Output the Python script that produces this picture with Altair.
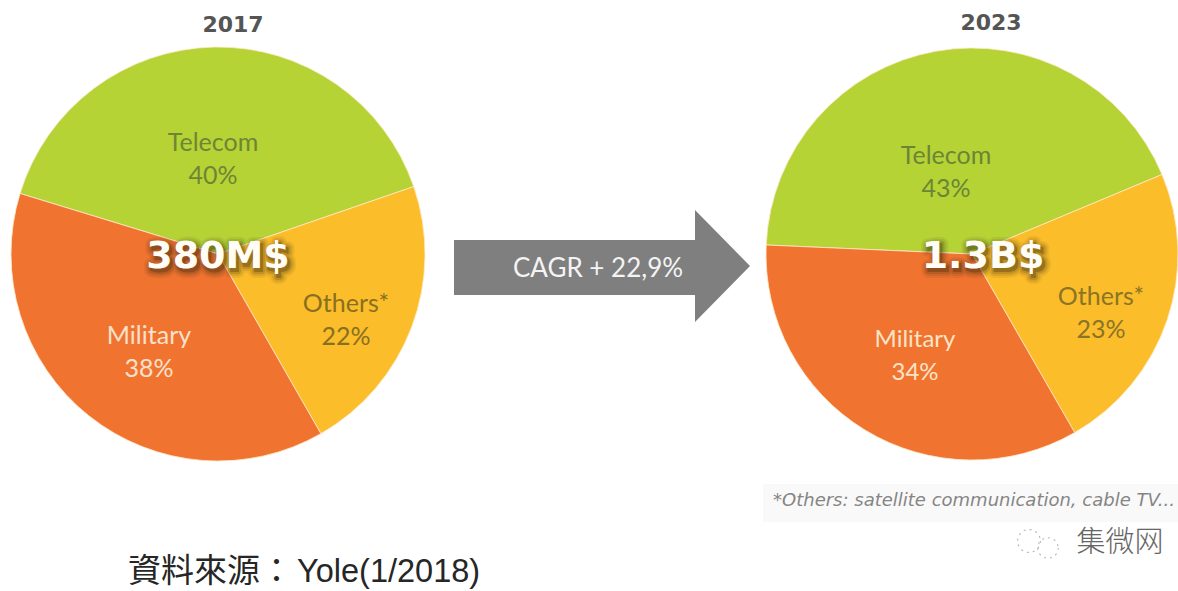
import altair as alt
import pandas as pd

segments = ["Telecom", "Others*", "Military"]
shares_2017 = [40, 22, 38]
shares_2023 = [43, 23, 34]
totals = ["380M$", "1.3B$"]
years = ["2017", "2023"]
cagr_label = "CAGR + 22,9%"
footnote = "*Others: satellite communication, cable TV..."
source_cjk = "資料來源："
source_ref = "Yole(1/2018)"
watermark = "集微网"

TAU = 6.283185
W, H = 1178, 591
seg_colors = ["#b6d335", "#fcbd2b", "#f07430"]
label_colors = {"Telecom": "#6f8536", "Others*": "#87701f", "Military": "#fbe0cb"}
label_colors_right = {"Telecom": "#6b8537", "Others*": "#8a7425", "Military": "#fbe3c6"}


def text(s, x, y, size, color, font="Lato", **kw):
    return (
        alt.Chart(pd.DataFrame({"t": [s]}))
        .mark_text(fontSize=size, color=color, font=font, **kw)
        .encode(text="t:N", x=alt.value(x), y=alt.value(y))
    )


def pie(shares, cx, cy, r, start_deg, fill_colors):
    df = pd.DataFrame({"segment": segments, "share": shares, "rank": [0, 1, 2]})
    start = start_deg / 360 * TAU
    return (
        alt.Chart(df)
        .mark_arc(outerRadius=r, stroke="#ffe9c8", strokeWidth=0.8)
        .encode(
            theta=alt.Theta(
                "share:Q",
                stack=True,
                scale=alt.Scale(domain=[0, 100], range=[start, start + TAU]),
            ),
            order=alt.Order("rank:Q"),
            color=alt.Color(
                "segment:N",
                scale=alt.Scale(domain=segments, range=fill_colors),
                legend=None,
            ),
            x=alt.value(cx),
            y=alt.value(cy),
        )
    )


def total(s, x, y):
    # soft dark halo under the white figure, built from widening strokes
    halo = [
        text(s, x + 2, y + 3, 38, "#3a2a10", "DejaVu Sans", fontWeight="bold",
             stroke="#3a2a10", strokeWidth=w, opacity=o, strokeJoin="round")
        for w, o in [(14, 0.07), (10, 0.1), (6, 0.16), (2, 0.3)]
    ]
    return halo + [text(s, x, y, 38, "#fffdf5", "DejaVu Sans", fontWeight="bold")]


def seg_labels(name, share, x, y, colors, size=25):
    return [
        text(name, x, y, size, colors[name]),
        text(f"{share}%", x, y + 33, size, colors[name]),
    ]


arrow_df = pd.DataFrame(
    {
        "px": [454, 695, 695, 750],
        "top": [240, 240, 210, 266],
        "bot": [295, 295, 322, 266],
    }
)
arrow = (
    alt.Chart(arrow_df)
    .mark_area(color="#7f7f7f", interpolate="linear")
    .encode(
        x=alt.X("px:Q", scale=None, axis=None),
        y=alt.Y("top:Q", scale=None, axis=None),
        y2="bot:Q",
    )
)

note_band = (
    alt.Chart(pd.DataFrame({"a": [0]}))
    .mark_rect(color="#f9f9f9")
    .encode(x=alt.value(763), x2=alt.value(1178), y=alt.value(484), y2=alt.value(522))
)

icon = [
    alt.Chart(pd.DataFrame({"a": [0]}))
    .mark_point(filled=False, shape="circle", size=sz, color="#9a9a9a",
                strokeWidth=1.1, strokeDash=[2, 4])
    .encode(x=alt.value(x), y=alt.value(y))
    for x, y, sz in [(1029, 541, 520), (1048, 548, 420)]
]

layers = [
    note_band,
    pie(shares_2017, 218, 254, 207, 287, seg_colors),
    pie(shares_2023, 972, 254, 206, 272.5, ["#b9d43a", "#fcc232", "#ef762f"]),
    arrow,
    text(years[0], 233, 25, 22, "#555555", "DejaVu Sans", fontWeight="bold"),
    text(years[1], 991, 23, 22, "#555555", "DejaVu Sans", fontWeight="bold"),
    *seg_labels("Telecom", shares_2017[0], 213, 143, label_colors),
    *seg_labels("Others*", shares_2017[1], 346, 304, label_colors),
    *seg_labels("Military", shares_2017[2], 149, 336, label_colors),
    *seg_labels("Telecom", shares_2023[0], 946, 156, label_colors_right),
    *seg_labels("Others*", shares_2023[1], 1101, 297, label_colors_right),
    *seg_labels("Military", shares_2023[2], 915, 340, label_colors_right, 24),
    *total(totals[0], 218, 257),
    *total(totals[1], 983, 257),
    text(cagr_label, 598, 269, 26, "#f4f4f4"),
    text(footnote, 773, 501, 18, "#858585", "DejaVu Sans", fontStyle="italic", align="left"),
    *icon,
    text(watermark, 1120, 543, 29, "#666666", "Noto Sans CJK SC", fontWeight=300),
    text(source_cjk, 128, 572, 33, "#262626", "Noto Sans CJK TC", align="left"),
    text(source_ref, 297, 572, 32.5, "#262626", "Liberation Sans", align="left"),
]

chart = (
    alt.layer(*layers)
    .resolve_scale(theta="independent")
    .properties(
        width=W,
        height=H,
        padding=0,
        autosize=alt.AutoSizeParams(type="none"),
        background="#ffffff",
    )
    .configure_view(stroke=None)
)

chart.save("out.html", embed_options={"renderer": "svg", "actions": False})
